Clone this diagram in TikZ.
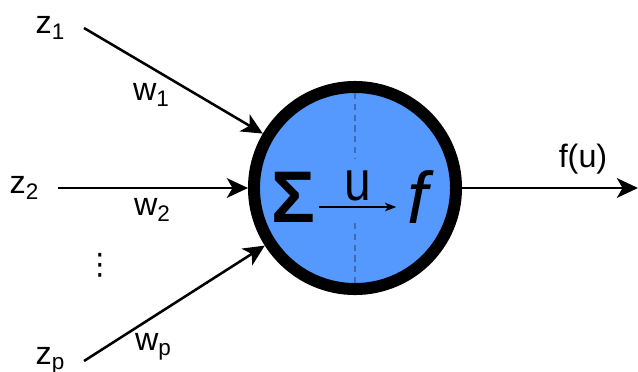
\documentclass[tikz,border=0pt]{standalone}
\usepackage{fontspec}
\setmainfont{Liberation Sans}
\newfontfamily\symfont{DejaVu Sans}
\usetikzlibrary{arrows.meta,calc}
\definecolor{NeuronBlue}{HTML}{5599FF}
\definecolor{SplitBlue}{HTML}{3F6CB0}
\newcommand{\idx}[1]{\raisebox{-0.32ex}{\fontsize{16}{16}\selectfont #1}}

\begin{document}
\begin{tikzpicture}[
  x=0.025cm,y=-0.025cm,
  lbl/.style={font=\fontsize{23}{26}\selectfont,inner sep=1pt},
  inp/.style={lbl,anchor=east,outer xsep=13pt},
  neuron/.style={circle,draw=black,line width=0.3cm,fill=NeuronBlue,minimum size=5.05cm,inner sep=0pt},
  big/.style={inner sep=3pt,font=\fontsize{52}{52}\selectfont},
  split/.style={draw=SplitBlue,line width=2pt,dash pattern=on 4.3pt off 3.4pt},
  arr/.style={-{Stealth[length=15pt,width=14pt,inset=4pt]},line width=1.8pt},
  small arr/.style={-{Stealth[length=8pt,width=6pt,inset=2pt]},line width=1.3pt}
]
\useasboundingbox (0,0) rectangle (638,371);
% the neuron
\node[neuron] (nrn) at (355,188) {};
\draw[split] ($(nrn.center)+(0,-95)$) -- ($(nrn.center)+(0,-30)$);
\draw[split] ($(nrn.center)+(0,35)$) -- ($(nrn.center)+(0,95)$);
\node[big,font=\fontsize{52}{52}\selectfont\bfseries] (sum) at (293,197) {Σ};
\node[big,font=\fontsize{52}{52}\selectfont\itshape] (act) at (418,197) {f};
\node[inner sep=1pt,font=\fontsize{40}{40}\selectfont] (u) at (358,186) {\scalebox{0.85}[1]{u}};
\draw[small arr,shorten >=5pt] (sum.east |- 0,207) -- (act.west |- 0,207);
% inputs
\node[inp] (z1) at (84,28) {z\idx{1}};
\node[inp] (z2) at (58,188) {z\idx{2}};
\node[inp] (zp) at (84,361) {z\idx{p}};
\node[lbl] (w1) at (151,95) {w\idx{1}};
\node[lbl] (w2) at (152,210) {w\idx{2}};
\node[lbl] (wp) at (153,347) {w\idx{p}};
\node[inner sep=0pt,font=\symfont\fontsize{21}{21}\selectfont] (dots) at (100,265) {⋮};
\draw[arr] (z1.east) -- (nrn);
\draw[arr] (z2.east) -- (nrn);
\draw[arr] (zp.east) -- (nrn);
% output
\coordinate (out) at (638,188);
\draw[arr] (nrn) -- (out);
\node[lbl] (fu) at (583,159) {f(u)};
\end{tikzpicture}
\end{document}
